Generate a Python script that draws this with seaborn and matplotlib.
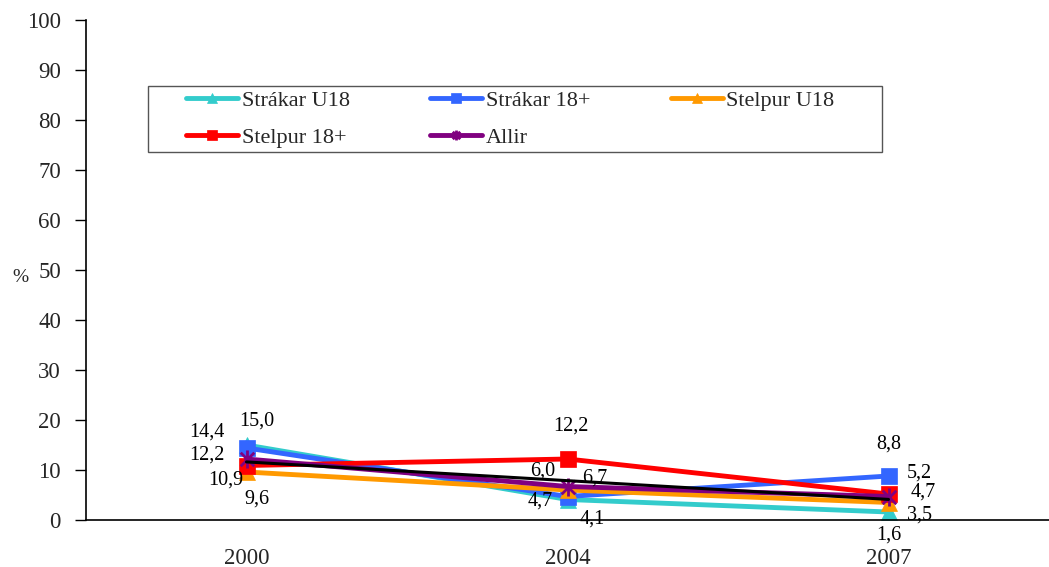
import matplotlib
matplotlib.use("Agg")
import matplotlib.pyplot as plt
from matplotlib.path import Path
from matplotlib.patches import Rectangle
import numpy as np
import pandas as pd
import seaborn as sns

years = ["2000", "2004", "2007"]
series_names = ["Strákar U18", "Strákar 18+", "Stelpur U18", "Stelpur 18+", "Allir"]
strakar_u18 = [15.0, 4.1, 1.6]
strakar_18 = [14.4, 4.7, 8.8]
stelpur_u18 = [9.6, 6.0, 3.5]
stelpur_18 = [10.9, 12.2, 5.2]
allir = [12.2, 6.7, 4.7]
values = [strakar_u18, strakar_18, stelpur_u18, stelpur_18, allir]

sns.set_theme(style="white")
plt.rcParams["font.family"] = ["Liberation Serif", "DejaVu Serif"]

colors = ["#33CCCC", "#3366FF", "#FF9900", "#FF0000", "#800080"]
asterisk = Path([(0, -1), (0, 1), (-0.75, -0.75), (0.75, 0.75), (-0.75, 0.75), (0.75, -0.75)],
                [Path.MOVETO, Path.LINETO, Path.MOVETO, Path.LINETO, Path.MOVETO, Path.LINETO])
markers = ["^", "s", "^", "s", asterisk]
msizes = [12, 12, 12, 12, 13]

# label offsets in pixels (dx, dy upward)
label_offsets = [
    [(10, 24), (25, -20), (0, -23)],
    [(-40, 16), (-27, -5), (0, 32)],
    [(10, -27), (-25, 19), (31, -13)],
    [(-21, -15), (3, 33), (31, 21)],
    [(-40, 4), (27, 8), (35, 4)],
]

fig = plt.figure(figsize=(10.49, 5.67), dpi=100)
ax = fig.add_axes([86 / 1049, 47 / 567, 963 / 1049, 500 / 567])

x = np.arange(len(years))
for name, vals, col, mk, ms in zip(series_names, values, colors, markers, msizes):
    df = pd.DataFrame({"x": x, "y": vals})
    sns.lineplot(data=df, x="x", y="y", ax=ax, color=col, linewidth=3.5,
                 marker=mk, markersize=ms, markeredgecolor=col,
                 markerfacecolor=(col if mk is not asterisk else "none"),
                 markeredgewidth=(0.5 if mk is not asterisk else 2.0),
                 label=name, legend=False)

# linear trend line for Allir
coef = np.polyfit(x, allir, 1)
trend = np.polyval(coef, x)
sns.lineplot(x=x, y=trend, ax=ax, color="black", linewidth=2.2, legend=False)

for vals, offs in zip(values, label_offsets):
    for xi, v, (dx, dy) in zip(x, vals, offs):
        ax.annotate(f"{v:.1f}".replace(".", ","), (xi, v), xytext=(dx, dy),
                    textcoords="offset pixels", ha="center", va="center",
                    fontsize=14.5, color="black")

ax.set_xlim(-0.5, 2.477)
ax.set_ylim(0, 100)
ax.set_yticks(range(0, 101, 10))
ax.set_xticks(x)
ax.set_xticklabels(years)
ax.set_xticks([-0.5, 0.5, 1.5, 2.5], minor=True)
ax.tick_params(axis="x", which="major", length=0, pad=20, labelsize=16.5)
ax.tick_params(axis="x", which="minor", length=6, width=1, color="#888888", direction="out")
ax.tick_params(axis="y", length=8, width=1, color="black", direction="out", pad=10, labelsize=16.5, left=True)
ax.set_xlabel("")
ax.set_ylabel("%", rotation=0, fontsize=14, va="center", ha="center")
ax.yaxis.set_label_coords(-66 / 963, 0.485)
for s in ["top", "right"]:
    ax.spines[s].set_visible(False)
for s in ["left", "bottom"]:
    ax.spines[s].set_color("black")
    ax.spines[s].set_linewidth(1.2)
ax.grid(False)

h, l = ax.get_legend_handles_labels()
order = [0, 3, 1, 4, 2]
leg = fig.legend([h[i] for i in order], [l[i] for i in order], ncol=3,
                 loc="upper left", bbox_to_anchor=(186 / 1049, 1 - 90 / 567),
                 frameon=False, fontsize=16, markerscale=0.55, handlelength=2.35,
                 handletextpad=0.15, columnspacing=3.62, borderpad=0, borderaxespad=0,
                 labelspacing=0.75)
fig.patches.append(Rectangle((148 / 1049, 1 - 152 / 567), (882 - 148) / 1049, 66 / 567,
                             transform=fig.transFigure, fill=False, edgecolor="#555555",
                             linewidth=1.0))

fig.savefig("out.png", dpi=100)
